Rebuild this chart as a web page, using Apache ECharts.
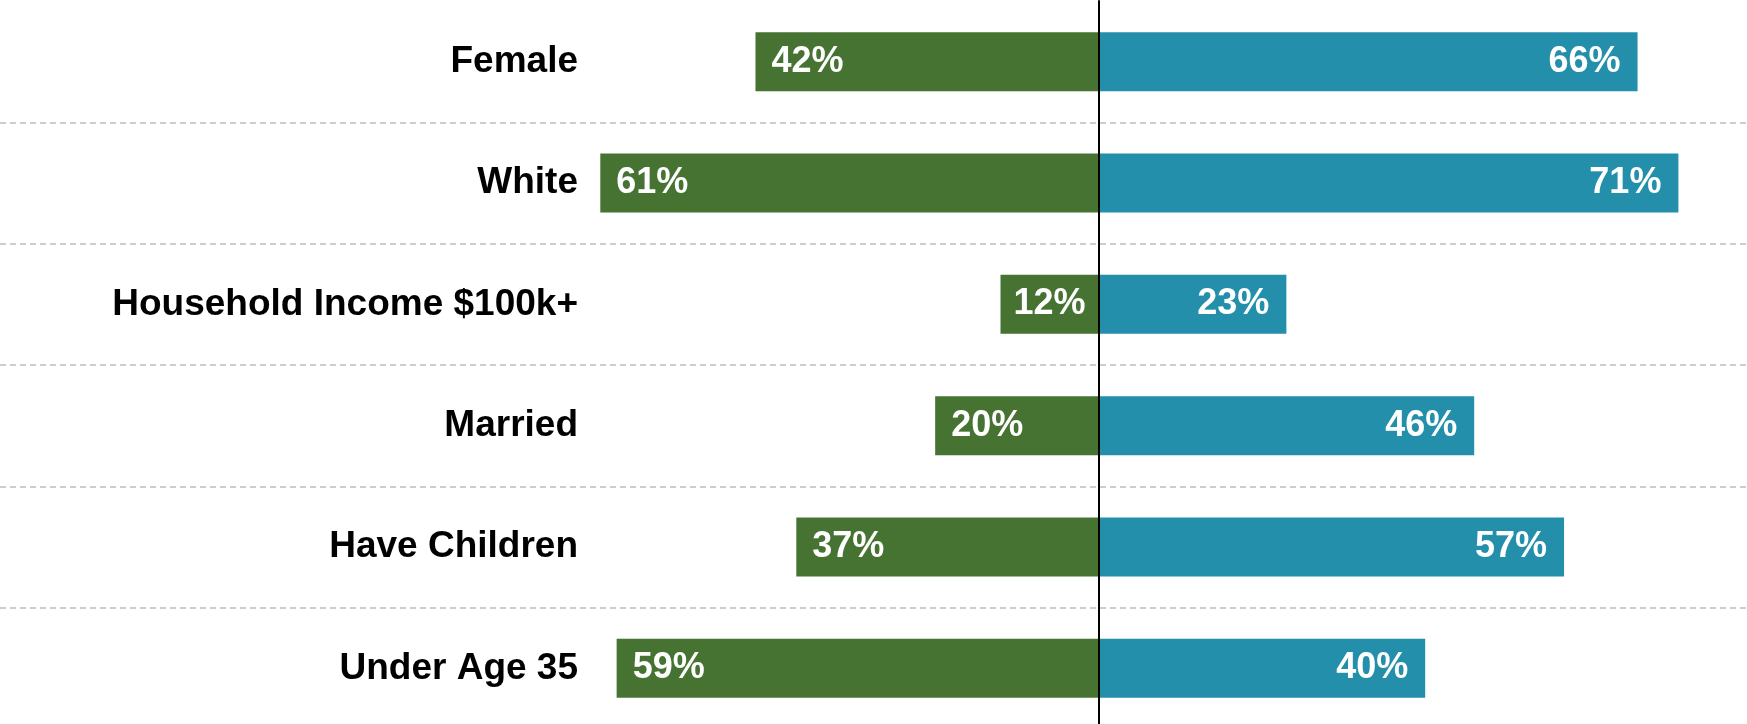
<!DOCTYPE html>
<html>
<head>
<meta charset="utf-8">
<script src="https://cdn.jsdelivr.net/npm/echarts@6/dist/echarts.min.js"></script>
<style>
  html, body { margin: 0; padding: 0; background: #ffffff; }
  #chart { width: 1747px; height: 724px; }
</style>
</head>
<body>
<div id="chart"></div>
<script>
// Profile categories, top to bottom
const categories = ['Female', 'White', 'Household Income $100k+', 'Married', 'Have Children', 'Under Age 35'];
// Share (%) for the left-hand group (green)
const leftValues = [42, 61, 12, 20, 37, 59];
// Share (%) for the right-hand group (teal)
const rightValues = [66, 71, 23, 46, 57, 40];

const GREEN = '#467332';
const TEAL = '#238FAA';

const chart = echarts.init(document.getElementById('chart'), null, { renderer: 'canvas' });

const valueLabel = {
  show: true,
  color: '#ffffff',
  fontFamily: "'Liberation Sans', Arial, sans-serif",
  fontWeight: 'bold',
  fontSize: 36,
  formatter: (p) => Math.abs(p.value) + '%'
};

// Left bars are drawn to the negative side of the shared value axis.
// Very short bars get their label centred instead of pinned to the outer end.
const leftData = leftValues.map((v) => {
  const item = { value: -v };
  if (v < 15) item.label = { position: 'inside' };
  return item;
});

chart.setOption({
  animation: false,
  grid: { left: 0, right: 0, top: 1, height: 728, containLabel: false, outerBoundsMode: 'none' },
  xAxis: {
    type: 'value',
    min: -134.5,
    max: 79.4,
    show: false
  },
  yAxis: {
    type: 'category',
    inverse: true,
    data: categories,
    axisTick: { show: false },
    axisLine: {
      show: true,
      onZero: true,
      lineStyle: { color: '#000000', width: 2 }
    },
    axisLabel: {
      // labels sit in the empty left part of the plot, right-aligned
      margin: -578,
      align: 'right',
      color: '#000000',
      fontFamily: "'Liberation Sans', Arial, sans-serif",
      fontWeight: 'bold',
      fontSize: 37
    },
    splitLine: {
      show: true,
      interval: (index) => index > 0,
      lineStyle: { color: '#bdbdbd', width: 1.5, type: [6, 4] }
    },
    z: 10
  },
  series: [
    {
      name: 'left',
      type: 'bar',
      data: leftData,
      barWidth: 59,
      barGap: '-100%',
      itemStyle: { color: GREEN },
      label: Object.assign({}, valueLabel, { position: 'insideLeft', distance: 16 })
    },
    {
      name: 'right',
      type: 'bar',
      data: rightValues,
      barWidth: 59,
      barGap: '-100%',
      itemStyle: { color: TEAL },
      label: Object.assign({}, valueLabel, { position: 'insideRight', distance: 17 })
    }
  ]
});
</script>
</body>
</html>
